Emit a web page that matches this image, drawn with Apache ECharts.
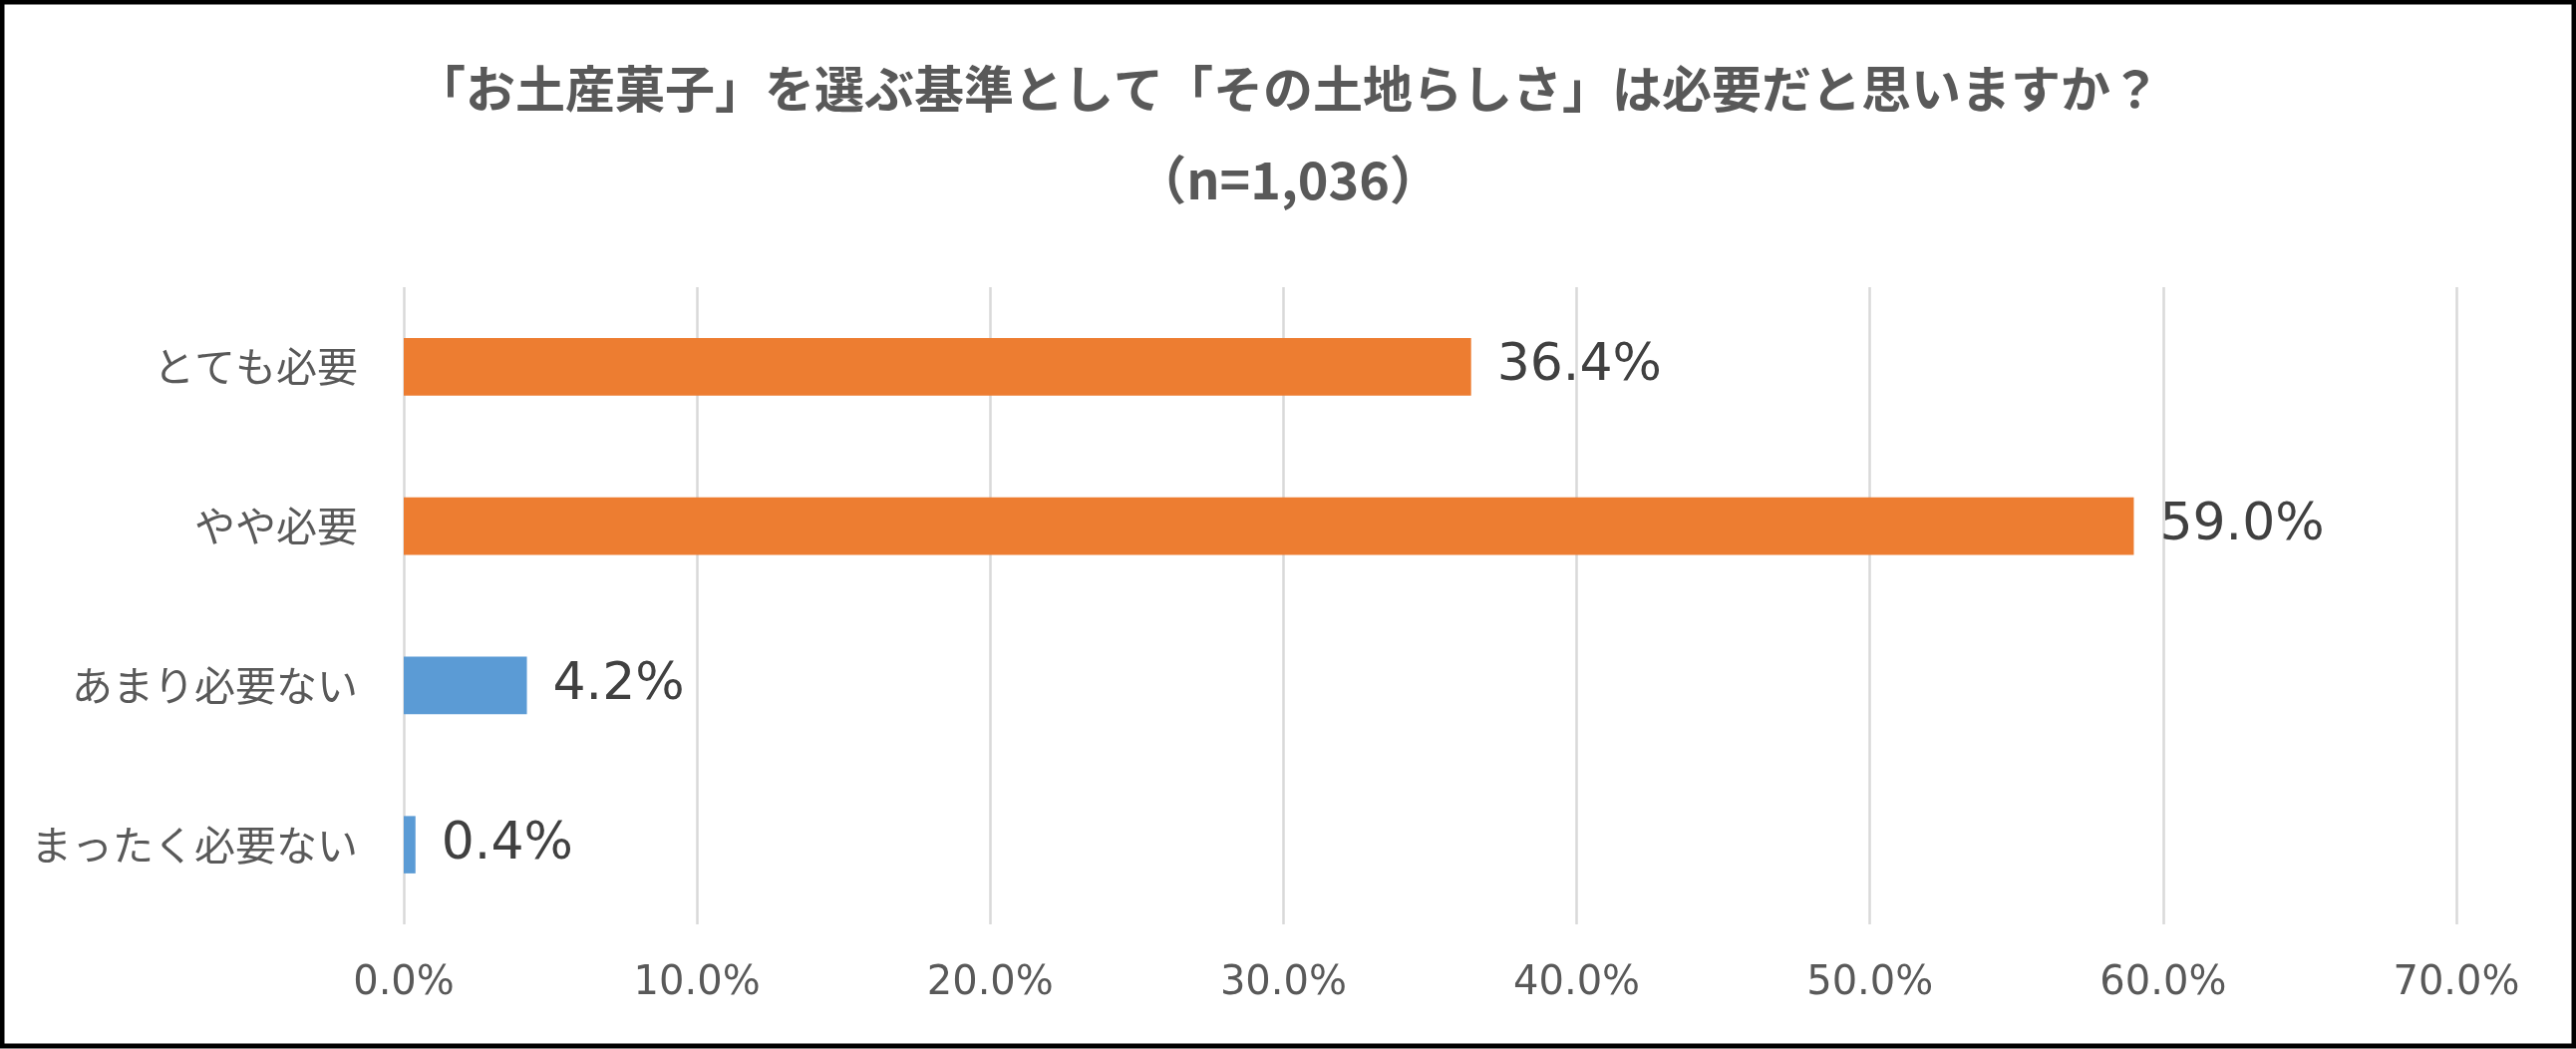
<!DOCTYPE html>
<html>
<head>
<meta charset="utf-8">
<title>お土産菓子 その土地らしさ</title>
<script src="https://cdn.jsdelivr.net/npm/echarts@6/dist/echarts.min.js"></script>
<style>
  html, body { margin: 0; padding: 0; background: #fff; }
  #chart { width: 2584px; height: 1052px; }
</style>
</head>
<body>
<div id="chart"></div>
<script>
// 回答項目（上から順）
var categories = ['とても必要', 'やや必要', 'あまり必要ない', 'まったく必要ない'];
// 割合(%)
var values = [36.4, 59.0, 4.2, 0.4];
// 棒の色（必要=オレンジ, 必要ない=青）
var barColors = ['#ED7D31', '#ED7D31', '#5B9BD5', '#5B9BD5'];
// 横軸目盛
var tickMax = 70;
var tickStep = 10;

var titleText = '「お土産菓子」を選ぶ基準として「その土地らしさ」は必要だと思いますか？';
var subText = '（n=1,036）';

var jpFont = '"Noto Sans CJK JP", "DejaVu Sans", sans-serif';
var numFont = '"DejaVu Sans", "Noto Sans CJK JP", sans-serif';

var myChart = echarts.init(document.getElementById('chart'));

var option = {
    backgroundColor: '#fff',
    animation: false,
    title: [
        {
            text: titleText,
            left: 'center',
            top: 57,
            textStyle: { fontFamily: jpFont, fontSize: 50, fontWeight: 'bold', color: '#595959', lineHeight: 54 }
        },
        {
            text: subText,
            left: 'center',
            top: 147,
            textStyle: { fontFamily: jpFont, fontSize: 52, fontWeight: 'bold', color: '#595959', lineHeight: 56 }
        }
    ],
    // 外枠
    graphic: [{
        type: 'rect',
        shape: { x: 2, y: 2, width: 2580, height: 1047 },
        style: { fill: null, stroke: '#000', lineWidth: 5 },
        silent: true
    }],
    grid: { left: 405, right: 120, top: 288, bottom: 125, containLabel: false },
    xAxis: {
        type: 'value',
        min: 0,
        max: tickMax,
        interval: tickStep,
        axisLine: { show: false },
        axisTick: { show: false },
        splitLine: { show: true, lineStyle: { color: '#D9D9D9', width: 2.5 } },
        axisLabel: {
            margin: 40,
            fontFamily: numFont,
            fontSize: 40,
            color: '#595959',
            formatter: function (v) { return v.toFixed(1) + '%'; }
        }
    },
    yAxis: {
        type: 'category',
        inverse: true,
        data: categories,
        axisLine: { show: false },
        axisTick: { show: false },
        axisLabel: { margin: 46, fontFamily: jpFont, fontSize: 41, color: '#595959' }
    },
    series: [{
        type: 'bar',
        barWidth: '36%',
        data: values.map(function (v, i) {
            return { value: v, itemStyle: { color: barColors[i] } };
        }),
        label: {
            show: true,
            position: 'right',
            distance: 26,
            fontFamily: numFont,
            fontSize: 52,
            color: '#404040',
            formatter: function (p) { return p.value.toFixed(1) + '%'; }
        }
    }]
};

myChart.setOption(option);
</script>
</body>
</html>
